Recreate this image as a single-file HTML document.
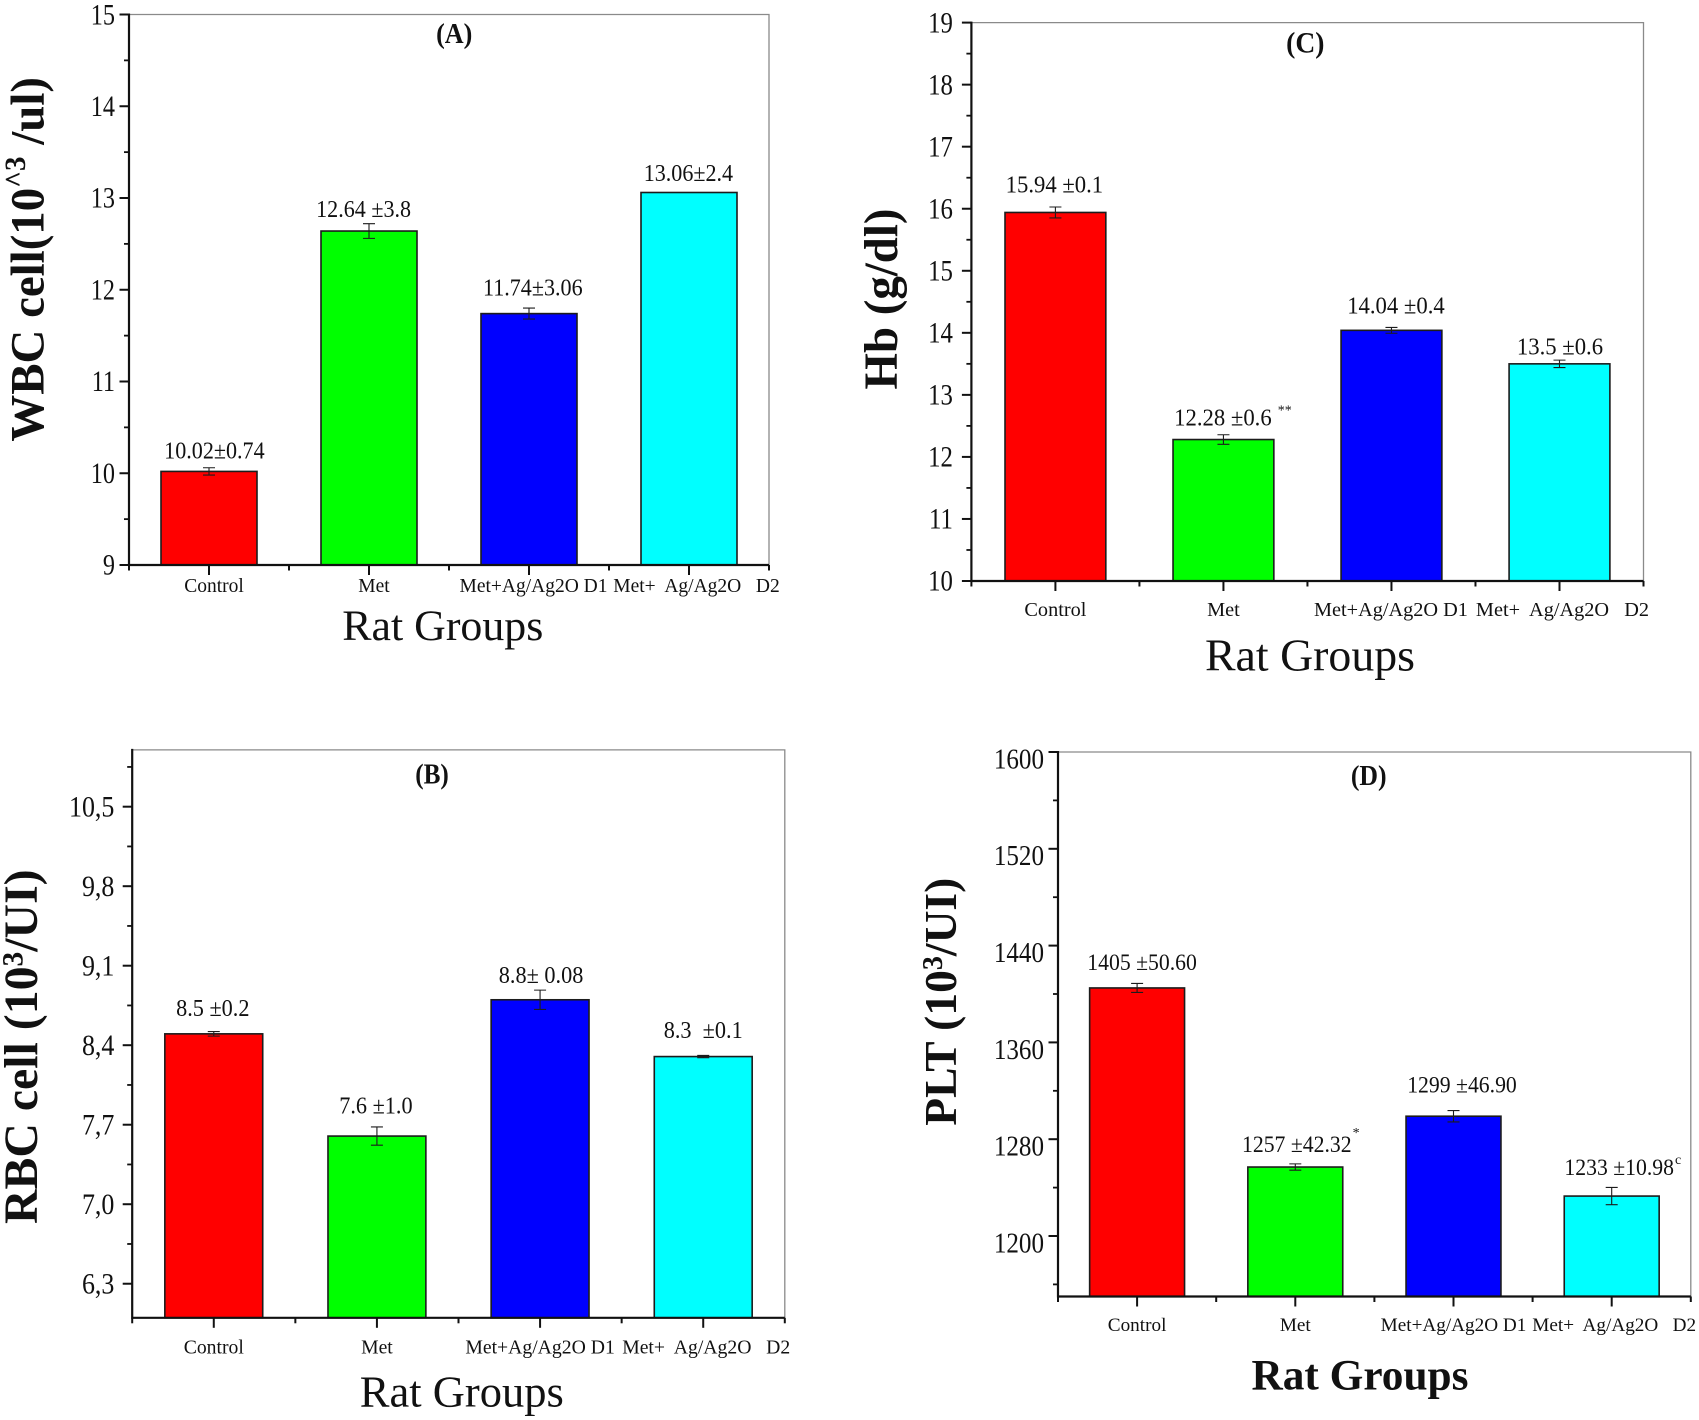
<!DOCTYPE html>
<html lang="en">
<head>
<meta charset="utf-8">
<title>Hematology bar charts</title>
<style>
html,body{margin:0;padding:0;background:#fff;}
svg{display:block;}
text{font-family:"Liberation Serif","Times New Roman",serif;fill:#111;white-space:pre;}
</style>
</head>
<body>
<svg id="figure" xmlns="http://www.w3.org/2000/svg" width="1699" height="1420" viewBox="0 0 1699 1420"></svg>
<script>
// ---------- chart data ----------
const categories = ["Control", "Met", "Met+Ag/Ag2O D1", "Met+  Ag/Ag2O   D2"];
const barColors = ["#ff0000", "#00ff00", "#0000ff", "#00ffff"];

const wbcValues = [10.02, 12.64, 11.74, 13.06];
const wbcErrors = [0.04, 0.08, 0.06, 0];
const wbcLabels = ["10.02±0.74", "12.64 ±3.8", "11.74±3.06", "13.06±2.4"];
const wbcMarks = ["", "", "", ""];
const wbcTicks = [9, 10, 11, 12, 13, 14, 15];
const wbcTickLabels = ["9", "10", "11", "12", "13", "14", "15"];

const rbcValues = [8.5, 7.6, 8.8, 8.3];
const rbcErrors = [0.02, 0.08, 0.085, 0.01];
const rbcLabels = ["8.5 ±0.2", "7.6 ±1.0", "8.8± 0.08", "8.3  ±0.1"];
const rbcMarks = ["", "", "", ""];
const rbcTicks = [6.3, 7.0, 7.7, 8.4, 9.1, 9.8, 10.5];
const rbcTickLabels = ["6,3", "7,0", "7,7", "8,4", "9,1", "9,8", "10,5"];

const hbValues = [15.94, 12.28, 14.04, 13.5];
const hbErrors = [0.088, 0.077, 0.047, 0.06];
const hbLabels = ["15.94 ±0.1", "12.28 ±0.6", "14.04 ±0.4", "13.5 ±0.6"];
const hbMarks = ["", "**", "", ""];
const hbTicks = [10, 11, 12, 13, 14, 15, 16, 17, 18, 19];
const hbTickLabels = ["10", "11", "12", "13", "14", "15", "16", "17", "18", "19"];

const pltValues = [1405, 1257, 1299, 1233];
const pltErrors = [3.7, 2.6, 4.7, 7.1];
const pltLabels = ["1405 ±50.60", "1257 ±42.32", "1299 ±46.90", "1233 ±10.98"];
const pltMarks = ["", "*", "", "c"];
const pltTicks = [1200, 1280, 1360, 1440, 1520, 1600];
const pltTickLabels = ["1200", "1280", "1360", "1440", "1520", "1600"];

// ---------- panel layout (pixels live here, not in the data) ----------
const panels = [
  { id:"a", letter:"(A)", values:wbcValues, errors:wbcErrors, labels:wbcLabels, marks:wbcMarks, ticks:wbcTicks, tickLabels:wbcTickLabels,
    box:{l:129,r:769,t:14.5,b:565}, domain:[9,15], minorStep:0.5,
    tickFont:29.5, tickSqueeze:0.82, tickEnd:115, tickDy:0, valueFont:24, valueSqueeze:0.92, catFont:19.5, catBase:592, catDx:[5,5,4.5,7.5],
    labelGap:[13,13.8,18.3,11.4], labelDx:[5.4,-5.4,3.8,-0.6], markRise:[0,0,0,0],
    title:{x:454.2,y:43,size:29,squeeze:0.9}, xTitle:{x:442.8,y:640,size:43.5,bold:false,len:201},
    yTitle:{x:43.4,y:259.3,size:48,len:364.6,supSize:0.62,supRise:0.38,parts:["WBC cell(10","^3"," /ul)"]} },
  { id:"c", letter:"(C)", values:hbValues, errors:hbErrors, labels:hbLabels, marks:hbMarks, ticks:hbTicks, tickLabels:hbTickLabels,
    box:{l:971.4,r:1643.5,t:22.6,b:581}, domain:[10,19], minorStep:0.5,
    tickFont:29.5, tickSqueeze:0.84, tickEnd:952.9, tickDy:0, valueFont:24.4, valueSqueeze:0.93, catFont:20.3, catBase:616, catDx:[0,0,-0.5,3],
    labelGap:[20,14,16.8,9.4], labelDx:[-1,-0.5,4.5,0.5], markRise:[0,11,0,0],
    title:{x:1305.3,y:52.4,size:30,squeeze:0.92}, xTitle:{x:1310,y:670.3,size:46,bold:false,len:210},
    yTitle:{x:897,y:299,size:47.5,len:181,supSize:0.62,supRise:0.3,parts:["Hb (g/dl)"]} },
  { id:"b", letter:"(B)", values:rbcValues, errors:rbcErrors, labels:rbcLabels, marks:rbcMarks, ticks:rbcTicks, tickLabels:rbcTickLabels,
    box:{l:132.2,r:784.8,t:749.9,b:1317.8}, domain:[6,11], minorStep:0.35,
    tickFont:29.5, tickSqueeze:0.88, tickEnd:114.4, tickDy:0, valueFont:24.2, valueSqueeze:0.92, catFont:19.7, catBase:1353.6, catDx:[0,0,0,3],
    labelGap:[18,22.6,16.8,18.8], labelDx:[-1,-1,1,0], markRise:[0,0,0,0],
    title:{x:432,y:783.7,size:28,squeeze:0.9}, xTitle:{x:461.8,y:1406.6,size:44.5,bold:false,len:204},
    yTitle:{x:36.9,y:1046.7,size:47.5,len:354.6,supSize:0.62,supRise:0.3,parts:["RBC cell (10","3","/UI)"]} },
  { id:"d", letter:"(D)", values:pltValues, errors:pltErrors, labels:pltLabels, marks:pltMarks, ticks:pltTicks, tickLabels:pltTickLabels,
    box:{l:1058,r:1690.8,t:752,b:1296.5}, domain:[1150,1600], minorStep:40,
    tickFont:28.5, tickSqueeze:0.88, tickEnd:1044, tickDy:7, valueFont:23.6, valueSqueeze:0.92, catFont:19.2, catBase:1331, catDx:[0,0,0,2.5],
    labelGap:[18,15,23.5,21], labelDx:[5,1.5,8.5,7.5], markRise:[0,15,0,11],
    title:{x:1368.7,y:785,size:28,squeeze:0.92}, xTitle:{x:1360,y:1389.3,size:43,bold:true,len:217},
    yTitle:{x:956,y:1001.7,size:46,len:248,supSize:0.62,supRise:0.3,parts:["PLT (10","3","/UI)"]} }
];

const NS = "http://www.w3.org/2000/svg";
const figure = document.getElementById("figure");

function make(parent, tag, attrs, content) {
  const el = document.createElementNS(NS, tag);
  for (const k in attrs) el.setAttribute(k, attrs[k]);
  if (content !== undefined) el.textContent = content;
  parent.appendChild(el);
  return el;
}

// condense a text horizontally (the source figure's text is vertically stretched)
function squeeze(el, factor) {
  const natural = el.getComputedTextLength();
  el.setAttribute("textLength", natural * factor);
  el.setAttribute("lengthAdjust", "spacingAndGlyphs");
  return natural * factor;
}

function drawPanel(p) {
  const g = make(figure, "g", {});
  
  

  const yScale = v => p.box.b - (v - p.domain[0]) / (p.domain[1] - p.domain[0]) * (p.box.b - p.box.t);
  const n = p.values.length;
  const slot = (p.box.r - p.box.l) / n;
  const xCenter = i => p.box.l + slot * (i + 0.5);
  const barW = slot * 0.6;

  // top and right frame
  const frame = make(g, "path", { d:`M${p.box.l} ${p.box.t}H${p.box.r}V${p.box.b}`, fill:"none", stroke:"#8a8a8a", "stroke-width":1.3 });
  
  

  // bars and error bars
  p.values.forEach((v, i) => {
    const bar = make(g, "rect", {
      x:xCenter(i) - barW / 2, y:yScale(v), width:barW, height:p.box.b - yScale(v),
      fill:barColors[i], stroke:"#1c1c1c", "stroke-width":1.6
    });
    
    

    const hi = yScale(v + p.errors[i]), lo = yScale(v - p.errors[i]), c = xCenter(i), cap = 6;
    const err = make(g, "path", {
      d:`M${c} ${hi}V${lo}M${c - cap} ${hi}H${c + cap}M${c - cap} ${lo}H${c + cap}`,
      fill:"none", stroke:"#1c1c1c", "stroke-width":1.1
    });
    
    

    const lx = c + p.labelDx[i], ly = yScale(v) - p.labelGap[i];
    const label = make(g, "text", { x:lx, y:ly, "text-anchor":"middle", "font-size":p.valueFont }, p.labels[i]);
    
    
    const labelWidth = squeeze(label, p.valueSqueeze);

    if (p.marks[i]) {
      const offset = p.marks[i] === "**" ? 6 : 1;
      const mark = make(g, "text", { x:lx + labelWidth / 2 + offset, y:ly - p.markRise[i], "font-size":14 }, p.marks[i]);
      
      
    }

    const cat = make(g, "text", { x:c + p.catDx[i], y:p.catBase, "text-anchor":"middle", "font-size":p.catFont }, categories[i]);
    
    

    const major = make(g, "line", { x1:c, x2:c, y1:p.box.b, y2:p.box.b + 10, stroke:"#111", "stroke-width":2 });
    
    
  });

  // minor x ticks between categories
  for (let i = 0; i <= n; i++) {
    const mx = p.box.l + slot * i;
    const minor = make(g, "line", { x1:mx, x2:mx, y1:p.box.b, y2:p.box.b + 5.5, stroke:"#111", "stroke-width":2 });
    
    
  }

  // y ticks, labels and minors
  p.ticks.forEach((t, i) => {
    const yy = yScale(t);
    const tick = make(g, "line", { x1:p.box.l - 9.5, x2:p.box.l, y1:yy, y2:yy, stroke:"#111", "stroke-width":2 });
    
    

    const lab = make(g, "text", { x:p.tickEnd, y:yy + p.tickDy + p.tickFont * 0.33, "text-anchor":"end", "font-size":p.tickFont }, p.tickLabels[i]);
    
    
    squeeze(lab, p.tickSqueeze);

    [t + p.minorStep, t - p.minorStep].forEach((m, k) => {
      if (k === 1 && i > 0) return;
      if (m <= p.domain[0] || m >= p.domain[1]) return;
      const yMinor = yScale(m);
      const minor = make(g, "line", { x1:p.box.l - 5, x2:p.box.l, y1:yMinor, y2:yMinor, stroke:"#111", "stroke-width":1.8 });
      
      
    });
  });

  // left and bottom axes
  const axisY = make(g, "line", { x1:p.box.l, x2:p.box.l, y1:p.box.t - 1, y2:p.box.b + 1, stroke:"#111", "stroke-width":2.2 });
  
  
  const axisX = make(g, "line", { x1:p.box.l, x2:p.box.r, y1:p.box.b, y2:p.box.b, stroke:"#111", "stroke-width":2.2 });
  
  

  // titles
  const title = make(g, "text", { x:p.title.x, y:p.title.y, "text-anchor":"middle", "font-size":p.title.size, "font-weight":"bold" }, p.letter);
  
  
  squeeze(title, p.title.squeeze);

  const xt = make(g, "text", {
    x:p.xTitle.x, y:p.xTitle.y, "text-anchor":"middle", "font-size":p.xTitle.size,
    "font-weight":p.xTitle.bold ? "bold" : "normal", textLength:p.xTitle.len, lengthAdjust:"spacingAndGlyphs"
  }, "Rat Groups");
  
  

  const yt = make(g, "text", {
    transform:`translate(${p.yTitle.x} ${p.yTitle.y}) rotate(-90)`, x:0, y:0, "text-anchor":"middle",
    "font-size":p.yTitle.size, "font-weight":"bold", textLength:p.yTitle.len, lengthAdjust:"spacingAndGlyphs"
  });
  
  
  if (p.yTitle.parts.length === 1) {
    yt.textContent = p.yTitle.parts[0];
  } else {
    const rise = p.yTitle.size * p.yTitle.supRise;
    make(yt, "tspan", {}, p.yTitle.parts[0]);
    make(yt, "tspan", { dy:-rise, "font-size":p.yTitle.size * p.yTitle.supSize }, p.yTitle.parts[1]);
    make(yt, "tspan", { dy:rise }, p.yTitle.parts[2]);
  }
}

panels.forEach(drawPanel);
</script>
</body>
</html>
